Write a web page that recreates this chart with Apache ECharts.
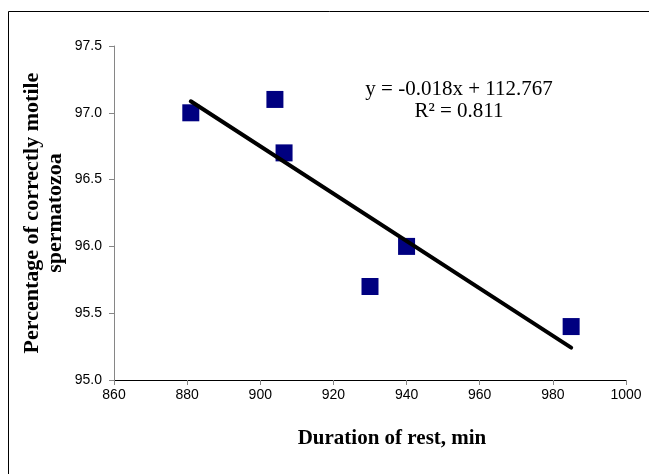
<!DOCTYPE html>
<html>
<head>
<meta charset="utf-8">
<script src="https://cdn.jsdelivr.net/npm/echarts@6/dist/echarts.min.js"></script>
<style>
  html, body { margin: 0; padding: 0; background: #fff; }
  #chart { width: 649px; height: 474px; }
</style>
</head>
<body>
<div id="chart"></div>
<script>
// Rest duration (min) vs. percentage of correctly motile spermatozoa
const restMinutes = [881, 904, 906.5, 930, 940, 985];
const motilePercent = [97.0, 97.1, 96.7, 95.7, 96.0, 95.4];

const xAxisRange = [860, 1000, 20];
const yAxisRange = [95.0, 97.5, 0.5];

const xTitle = 'Duration of rest, min';
const yTitleLines = ['Percentage of correctly motile', 'spermatozoa'];
const equationLines = ['y = -0.018x + 112.767', 'R² = 0.811'];

// Ordinary least-squares fit for the trendline
function linearFit(xs, ys) {
  const n = xs.length;
  const mx = xs.reduce((a, b) => a + b, 0) / n;
  const my = ys.reduce((a, b) => a + b, 0) / n;
  let sxy = 0, sxx = 0;
  for (let i = 0; i < n; i++) {
    sxy += (xs[i] - mx) * (ys[i] - my);
    sxx += (xs[i] - mx) * (xs[i] - mx);
  }
  const slope = sxy / sxx;
  return { slope, intercept: my - slope * mx };
}

const fit = linearFit(restMinutes, motilePercent);
const xMin = Math.min(...restMinutes);
const xMax = Math.max(...restMinutes);
const trendData = [
  [xMin, fit.intercept + fit.slope * xMin],
  [xMax, fit.intercept + fit.slope * xMax]
];

const points = restMinutes.map((x, i) => [x, motilePercent[i]]);

const chart = echarts.init(document.getElementById('chart'), null, { renderer: 'canvas' });

const serif = '"Liberation Serif", "Times New Roman", serif';
const sans = '"Liberation Sans", Arial, sans-serif';

chart.setOption({
  animation: false,
  backgroundColor: '#ffffff',
  grid: { left: 114, right: 23, top: 46, bottom: 94, containLabel: false },
  xAxis: {
    type: 'value',
    min: xAxisRange[0], max: xAxisRange[1], interval: xAxisRange[2],
    axisLine: { show: true, onZero: false, lineStyle: { color: '#000000', width: 1 } },
    axisTick: { show: true, inside: false, length: 5, lineStyle: { color: '#868686' } },
    axisLabel: {
      color: '#000000', fontFamily: sans, fontSize: 14, margin: 8,
      formatter: v => String(v)
    },
    splitLine: { show: false }
  },
  yAxis: {
    type: 'value',
    min: yAxisRange[0], max: yAxisRange[1], interval: yAxisRange[2],
    axisLine: { show: true, onZero: false, lineStyle: { color: '#868686', width: 1 } },
    axisTick: { show: true, inside: false, length: 5, lineStyle: { color: '#868686' } },
    axisLabel: {
      color: '#000000', fontFamily: sans, fontSize: 14, margin: 12,
      formatter: v => v.toFixed(1)
    },
    splitLine: { show: false }
  },
  series: [
    {
      type: 'scatter',
      data: points,
      symbol: 'rect',
      symbolSize: 17,
      itemStyle: { color: '#000080', opacity: 1 },
      z: 2
    },
    {
      type: 'line',
      data: trendData,
      symbol: 'none',
      lineStyle: { color: '#000000', width: 4, cap: 'round' },
      z: 3
    }
  ],
  graphic: [
    {
      type: 'rect',
      shape: { x: 8.5, y: 11.5, width: 700, height: 500 },
      style: { fill: null, stroke: '#000000', lineWidth: 1 },
      silent: true, z: 10
    },
    {
      type: 'text',
      x: 392, y: 439,
      style: {
        text: xTitle, fontFamily: serif, fontWeight: 'bold', fontSize: 21,
        fill: '#000000', align: 'center', verticalAlign: 'middle'
      }
    },
    {
      type: 'text',
      x: 44, y: 213,
      rotation: Math.PI / 2,
      style: {
        text: yTitleLines.join('\n'), fontFamily: serif, fontWeight: 'bold', fontSize: 22,
        lineHeight: 23, fill: '#000000', align: 'center', verticalAlign: 'middle'
      }
    },
    {
      type: 'text',
      x: 459, y: 100,
      style: {
        text: equationLines.join('\n'), fontFamily: serif, fontSize: 21,
        lineHeight: 22, fill: '#000000', align: 'center', verticalAlign: 'middle'
      }
    }
  ]
});
</script>
</body>
</html>
